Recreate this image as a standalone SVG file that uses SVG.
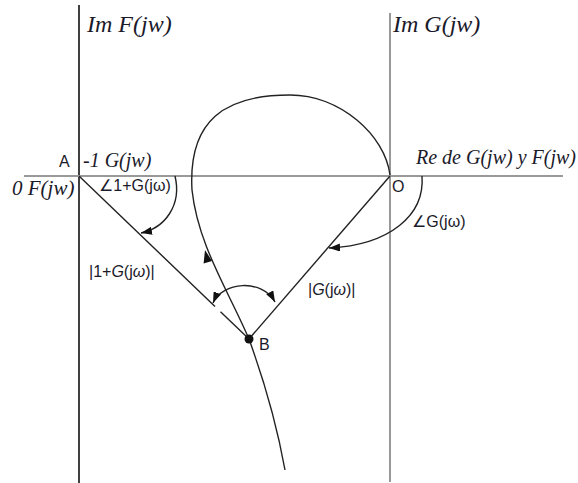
<svg xmlns="http://www.w3.org/2000/svg" width="578" height="483" viewBox="0 0 578 483">
<style>
.ax{stroke:#999;stroke-width:2;fill:none}
.axk{stroke:#111;stroke-width:1.6;fill:none}
.ln{stroke:#222;stroke-width:1.4;fill:none}
.it{font-family:"Liberation Serif","Times New Roman",serif;font-style:italic;fill:#1a1a2a}
.sn{font-family:"Liberation Sans","DejaVu Sans",Arial,sans-serif;fill:#1a1a2a}
</style>
<defs>
<marker id="ah" viewBox="0 0 11 8" refX="11" refY="4" markerWidth="11" markerHeight="8" markerUnits="userSpaceOnUse" orient="auto-start-reverse">
<path d="M0,0 L11,4 L0,8 Z" fill="#111"/>
</marker>
</defs>
<rect width="578" height="483" fill="#fff"/>
<g id="axes">
<line class="axk" x1="79" y1="5" x2="79" y2="483"/>
<line class="ax" x1="390" y1="13" x2="390" y2="482"/>
<line class="ax" x1="24" y1="176" x2="563" y2="176"/>
</g>
<g id="connectors">
<line class="ln" x1="79" y1="176" x2="215" y2="306.5"/>
<line class="ln" x1="220.5" y1="311.8" x2="249" y2="339"/>
<line class="ln" x1="390" y1="176" x2="249" y2="339"/>
<path class="ln" d="M285,470 C276,420 262,375 249,339 C228,290 198,245 192,190 C188,120 225,95 290,95 C340,95 385,135 390,175"/>
<path d="M205,250 L212,261 L203.6,263.4 Z" fill="#111"/>
<path class="ln" d="M175,176 C182,205 165,228 141,233" marker-end="url(#ah)"/>
<path class="ln" d="M422,176 C425,215 390,245 329,248" marker-end="url(#ah)"/>
<path class="ln" d="M213,303 C222,282 262,278 275,302" marker-start="url(#ah)" marker-end="url(#ah)"/>
</g>
<g id="node-B">
<circle cx="249" cy="339" r="4.5" fill="#111"/>
<text class="sn" x="259" y="350" font-size="16">B</text>
</g>
<g id="node-A">
<text class="sn" x="59" y="167" font-size="16">A</text>
</g>
<g id="node-O">
<text class="sn" x="392" y="192" font-size="16">O</text>
</g>
<g id="labels">
<text class="it" x="87" y="32" font-size="24">Im F(jw)</text>
<text class="it" x="393" y="32" font-size="24">Im G(jw)</text>
<text class="it" x="83" y="167" font-size="20">-1 G(jw)</text>
<text class="it" x="12" y="195" font-size="21">0 F(jw)</text>
<text class="it" x="416" y="164" font-size="20">Re de G(jw) y F(jw)</text>
<text class="sn" x="99" y="191" font-size="16">∠1+G(jω)</text>
<text class="sn" x="412" y="227" font-size="16">∠G(jω)</text>
<text class="sn" x="89" y="277" font-size="16">|1+<tspan font-style="italic">G</tspan>(j<tspan font-style="italic">ω</tspan>)|</text>
<text class="sn" x="308" y="295" font-size="16">|<tspan font-style="italic">G</tspan>(j<tspan font-style="italic">ω</tspan>)|</text>
</g>
</svg>
